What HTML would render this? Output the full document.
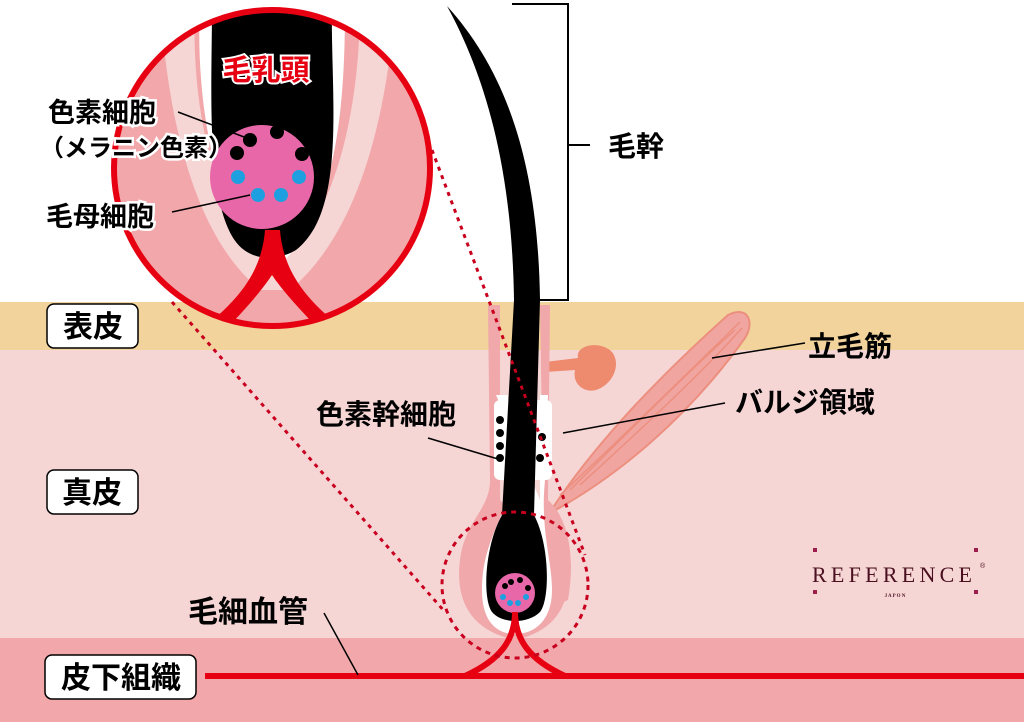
<!DOCTYPE html>
<html><head><meta charset="utf-8"><style>
body{margin:0;width:1024px;height:722px;overflow:hidden;background:#fff}
svg text{font-family:"Liberation Sans","Noto Sans CJK JP",sans-serif;font-weight:bold}
</style></head><body>
<svg width="1024" height="722" viewBox="0 0 1024 722" xmlns="http://www.w3.org/2000/svg">
<defs><clipPath id="cc"><circle cx="272" cy="168" r="158"/></clipPath></defs>
<rect x="0" y="0" width="1024" height="302" fill="#fff"/>
<rect x="0" y="302" width="1024" height="48" fill="#f1d39b"/>
<rect x="0" y="350" width="1024" height="288" fill="#f6d5d5"/>
<rect x="0" y="638" width="1024" height="84" fill="#f2a8aa"/>
<path d="M548,515 C590,450 650,385 728,315 C748,305 755,322 745,338 C690,415 620,475 552,512 Z" fill="#f1a5a1" stroke="#ec8f7f" stroke-width="2"/>
<path d="M560,495 C620,440 680,380 740,322 M570,490 C630,430 690,370 735,330 M580,485 C640,430 700,375 742,328" stroke="#ec8f7f" stroke-width="1.5" fill="none"/>
<path d="M545,362 L578,358 C575,345 600,340 612,352 C622,365 612,385 596,390 C585,393 572,385 575,370 L545,372 Z" fill="#ee8a6e"/>
<path d="M488,305 L500,305 L500,500 C520,520 560,520 568,560 C572,600 560,630 515,640 C470,630 455,600 460,560 C465,520 490,510 490,480 Z" fill="#f0a8aa"/>
<path d="M540,305 L550,305 L548,500 C570,520 575,560 568,600 L545,610 Z" fill="#f0a8aa"/>
<path d="M496,395 L508,395 L508,500 C490,540 482,560 482,590 C482,625 500,634 515,634 C535,634 552,620 552,590 C552,560 540,530 545,480 L548,395 L540,395 L540,500 Z" fill="#fff"/>
<rect x="494" y="400" width="58" height="80" rx="6" fill="#fff"/>
<path d="M447,6 C505,70 538,160 540,300 L534,515 C550,545 550,600 540,612 C528,624 502,624 492,612 C482,598 485,545 502,515 L514,300 C512,160 482,70 447,6 Z" fill="#000"/>
<circle cx="515" cy="593" r="20" fill="#e867a8"/>
<g fill="#000"><circle cx="505" cy="586" r="3"/><circle cx="511" cy="582" r="3"/><circle cx="520" cy="580" r="3"/><circle cx="528" cy="588" r="3"/></g>
<g fill="#1ea0e0"><circle cx="503" cy="597" r="3"/><circle cx="510" cy="603" r="3"/><circle cx="518" cy="603" r="3"/><circle cx="526" cy="597" r="3"/></g>
<g fill="#000"><circle cx="500" cy="420" r="4"/><circle cx="500" cy="433" r="4"/><circle cx="500" cy="446" r="4"/><circle cx="500" cy="458" r="4"/><circle cx="542" cy="437" r="4"/><circle cx="540" cy="458" r="4"/></g>
<path d="M205,676 L1024,676" stroke="#e60012" stroke-width="6"/>
<path d="M465,676 C500,660 515,640 515,612 C515,640 530,660 565,676" stroke="#e60012" stroke-width="6" fill="none"/>
<circle cx="515" cy="585" r="73" fill="none" stroke="#c8001e" stroke-width="3" stroke-dasharray="5,5"/>
<path d="M172,302 L445,612 M432,150 L585,555" stroke="#c8001e" stroke-width="3" stroke-dasharray="4,5"/>
<g clip-path="url(#cc)">
<rect x="110" y="5" width="330" height="330" fill="#f2a8aa"/>
<path d="M160,5 C170,140 200,240 260,290 L290,290 C350,240 385,140 395,5 L360,5 C360,120 330,230 275,265 C220,230 190,120 195,5 Z" fill="#f6d5d5"/>
<path d="M200,5 L345,5 C345,90 340,220 275,268 C215,230 195,100 200,5 Z" fill="#fff"/>
<path d="M212,5 L332,5 C330,90 348,210 296,250 C272,264 248,258 236,242 C205,200 212,90 212,5 Z" fill="#000"/>
<path d="M200,330 C240,300 262,270 265,230 L280,230 C283,270 305,300 345,330 L320,330 C300,310 282,290 272,275 C262,290 245,310 225,330 Z" fill="#e60012"/>
<circle cx="262" cy="177" r="52" fill="#e867a8"/>
<g fill="#000"><circle cx="250" cy="140" r="7"/><circle cx="277" cy="132" r="7"/><circle cx="237" cy="153" r="7"/><circle cx="302" cy="154" r="7"/></g>
<g fill="#1ea0e0"><circle cx="238" cy="177" r="7"/><circle cx="299" cy="177" r="7"/><circle cx="258" cy="195" r="7"/><circle cx="281" cy="195" r="7"/></g>
</g>
<circle cx="272" cy="168" r="158" fill="none" stroke="#e60012" stroke-width="6"/>
<text x="266" y="80" font-size="29" fill="#e60012" text-anchor="middle" stroke="#fff" stroke-width="4" paint-order="stroke">毛乳頭</text>
<g font-size="27" fill="#000" stroke="#fff" stroke-width="5" paint-order="stroke">
<text x="48" y="122">色素細胞</text>
<text x="40" y="156" font-size="24">（メラニン色素）</text>
<text x="46" y="226">毛母細胞</text>
</g>
<path d="M178,112 L252,140 M172,212 L250,195" stroke="#000" stroke-width="1.5"/>
<path d="M512,4 L568,4 L568,300 L540,300 M568,145 L590,145" stroke="#000" stroke-width="2" fill="none"/>
<g font-size="28" fill="#000">
<text x="608" y="156">毛幹</text>
<text x="808" y="356">立毛筋</text>
<text x="735" y="412">バルジ領域</text>
<text x="316" y="424">色素幹細胞</text>
<text x="188" y="622" font-size="30">毛細血管</text>
</g>
<path d="M712,358 L805,343 M563,433 L725,403 M428,438 L498,459 M324,613 L358,675" stroke="#000" stroke-width="1.5"/>
<g fill="#fff" stroke="#000" stroke-width="1.5">
<rect x="47" y="304" width="91" height="44" rx="7"/>
<rect x="47" y="470" width="91" height="44" rx="7"/>
<rect x="45" y="655" width="151" height="44" rx="7"/>
</g>
<g font-size="30" fill="#000" text-anchor="middle">
<text x="93" y="337">表皮</text><text x="92" y="503">真皮</text><text x="121" y="688">皮下組織</text>
</g>
<g fill="#9c1e4a"><rect x="813" y="548" width="4" height="4"/><rect x="813" y="590" width="4" height="4"/><rect x="974" y="548" width="4" height="4"/><rect x="974" y="590" width="4" height="4"/></g>
<text x="812" y="582" font-size="22" fill="#4a1020" textLength="160" style="font-family:'Liberation Serif',serif;font-weight:normal">REFERENCE</text>
<text x="980" y="568" font-size="7" fill="#4a1020" style="font-weight:normal">®</text>
<text x="895" y="597" font-size="5" fill="#4a1020" text-anchor="middle" style="font-family:'Liberation Serif',serif">J A P O N</text>
</svg>
</body></html>
